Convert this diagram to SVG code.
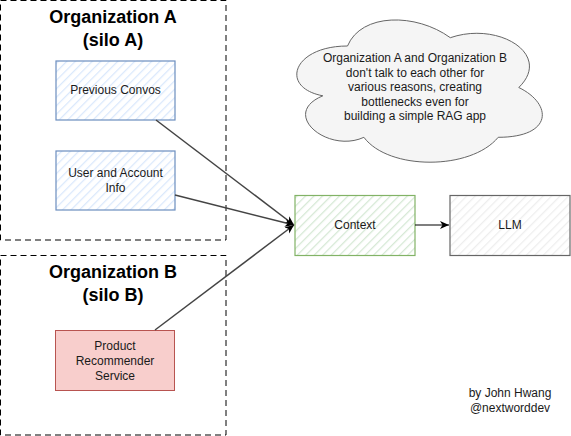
<svg xmlns="http://www.w3.org/2000/svg" width="571" height="436" viewBox="0 0 571 436">
<style>
.silo{fill:none;stroke:#000;stroke-width:1;stroke-dasharray:6 4}
.title{font-family:"Liberation Sans",Arial,sans-serif;font-weight:bold;font-size:18px;fill:#000;text-anchor:middle}
.lbl{font-family:"Liberation Sans",Arial,sans-serif;font-size:12px;fill:#1a1a1a;text-anchor:middle}
.edge{stroke:#444;stroke-width:1.5;fill:none}
</style>
<defs>
<pattern id="hb" width="6" height="6" patternUnits="userSpaceOnUse" patternTransform="rotate(45)"><rect width="6" height="6" fill="#fff"/><line x1="0" y1="0" x2="0" y2="6" stroke="#dae8fc" stroke-width="2.5"/></pattern>
<pattern id="hg" width="6" height="6" patternUnits="userSpaceOnUse" patternTransform="rotate(45)"><rect width="6" height="6" fill="#fff"/><line x1="0" y1="0" x2="0" y2="6" stroke="#d5e8d4" stroke-width="2.5"/></pattern>
<pattern id="hk" width="6" height="6" patternUnits="userSpaceOnUse" patternTransform="rotate(45)"><rect width="6" height="6" fill="#fff"/><line x1="0" y1="0" x2="0" y2="6" stroke="#eeeeee" stroke-width="2.5"/></pattern>
<marker id="ah" markerWidth="10" markerHeight="10" refX="9" refY="5" orient="auto" markerUnits="userSpaceOnUse"><path d="M0,1 L9,5 L0,9 L2.5,5 Z" fill="#000"/></marker>
</defs>
<g id="silo-a"><rect class="silo" x="0.5" y="0.5" width="225.5" height="239.5"/><text class="title" x="113" y="23">Organization A</text><text class="title" x="113" y="46">(silo A)</text></g>
<g id="silo-b"><rect class="silo" x="0.5" y="255.5" width="225.5" height="179.5"/><text class="title" x="113" y="278">Organization B</text><text class="title" x="113" y="301">(silo B)</text></g>
<g id="cloud"><path d="M347.5,46 C292.7,46 279,87.5 322.8,95.8 C279,114 328.3,153.9 363.9,137.3 C388.6,170.5 470.8,170.5 498.2,137.3 C553,137.3 553,104.1 518.8,87.5 C553,54.3 498.2,21.1 450.3,37.7 C416,12.8 361.2,12.8 347.5,46 Z" fill="#f5f5f5" stroke="#666" stroke-width="1"/>
<text class="lbl" x="415" y="62">Organization A and Organization B</text><text class="lbl" x="415" y="76.5">don't talk to each other for</text><text class="lbl" x="415" y="91">various reasons, creating</text><text class="lbl" x="415" y="105.5">bottlenecks even for</text><text class="lbl" x="415" y="120">building a simple RAG app</text></g>
<g id="previous-convos"><rect x="56" y="61" width="119" height="59" fill="url(#hb)" stroke="#6c8ebf" stroke-width="1.2"/><text class="lbl" x="115.5" y="94">Previous Convos</text></g>
<g id="user-info"><rect x="56" y="151" width="119" height="59" fill="url(#hb)" stroke="#6c8ebf" stroke-width="1.2"/><text class="lbl" x="115.5" y="177">User and Account</text><text class="lbl" x="115.5" y="192">Info</text></g>
<g id="product-recommender"><rect x="55.5" y="330.5" width="119" height="60" fill="#f8cecc" stroke="#b85450" stroke-width="1"/><text class="lbl" x="115" y="350">Product</text><text class="lbl" x="115" y="365">Recommender</text><text class="lbl" x="115" y="380">Service</text></g>
<g id="context"><rect x="295" y="195.5" width="120" height="60" fill="url(#hg)" stroke="#82b366" stroke-width="1.2"/><text class="lbl" x="355" y="229">Context</text></g>
<g id="llm"><rect x="450" y="195.5" width="120" height="60" fill="url(#hk)" stroke="#666" stroke-width="1.2"/><text class="lbl" x="510" y="229">LLM</text></g>
<g id="by"><text class="lbl" x="510" y="397">by John Hwang</text><text class="lbl" x="510" y="412">@nextworddev</text></g>
<g id="connectors">
<path class="edge" d="M156,120 L294,225" marker-end="url(#ah)"/>
<path class="edge" d="M175,195 L294,225" marker-end="url(#ah)"/>
<path class="edge" d="M155,330 L294,225" marker-end="url(#ah)"/>
<path d="M415,225 L449,225" stroke="#000" stroke-width="1.2" marker-end="url(#ah)"/>
</g>
</svg>
